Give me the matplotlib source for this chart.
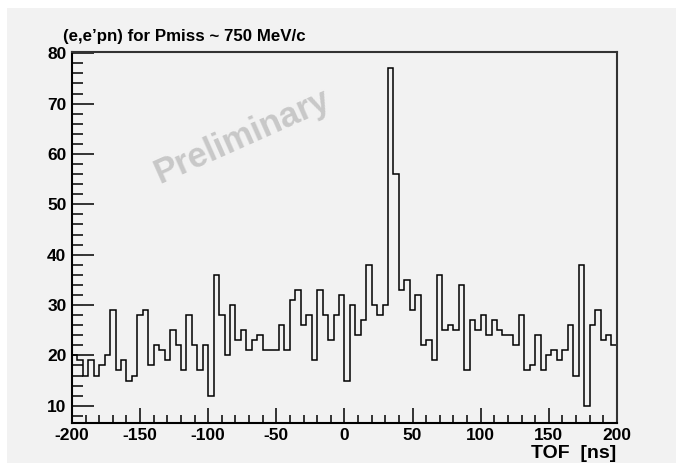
import numpy as np
import matplotlib.pyplot as plt
from matplotlib.patches import Rectangle
from matplotlib.ticker import MultipleLocator

# TOF histogram, 100 bins of 4 ns between -200 and 200 ns
tof_min = -200
tof_max = 200
n_bins = 100
counts = [20, 19, 16, 19, 16, 18, 20, 29, 17, 19,
          15, 16, 28, 29, 18, 22, 21, 19, 25, 22,
          17, 28, 22, 17, 22, 12, 36, 28, 20, 30,
          23, 25, 21, 23, 24, 21, 21, 21, 26, 21,
          31, 33, 26, 28, 19, 33, 28, 23, 28, 32,
          15, 30, 24, 27, 38, 30, 28, 30, 77, 56,
          33, 35, 29, 32, 22, 23, 19, 36, 25, 26,
          25, 34, 17, 27, 25, 28, 24, 27, 25, 24,
          24, 22, 28, 17, 18, 24, 17, 20, 21, 19,
          21, 26, 16, 38, 10, 26, 29, 23, 24, 22]

title = "(e,e\u2019pn) for Pmiss ~ 750 MeV/c"
xlabel = "TOF  [ns]"
watermark = "Preliminary"

plt.rcParams['font.family'] = ['Liberation Sans', 'DejaVu Sans']
plt.rcParams['font.weight'] = 'bold'
plt.rcParams['axes.unicode_minus'] = False

grey = '#f2f2f2'
fig = plt.figure(figsize=(6.76, 4.65), dpi=100, facecolor='white')
fig.patches.append(Rectangle((7 / 676, 2 / 465), 1 - 7 / 676, 455 / 465,
                             transform=fig.transFigure, facecolor=grey,
                             edgecolor='none', zorder=-10))

ax = fig.add_axes([0.1065, 0.0912, 0.806, 0.798])
ax.set_facecolor(grey)

edges = np.linspace(tof_min, tof_max, n_bins + 1)
ax.stairs(counts, edges, color='black', linewidth=1.1, baseline=None)

ax.set_xlim(tof_min, tof_max)
ax.set_ylim(6.65, 80.35)

ax.xaxis.set_major_locator(MultipleLocator(50))
ax.xaxis.set_minor_locator(MultipleLocator(10))
ax.yaxis.set_major_locator(MultipleLocator(10))
ax.yaxis.set_minor_locator(MultipleLocator(2))
ax.set_yticks(np.arange(10, 81, 10))

ax.tick_params(axis='both', which='both', direction='in', labelsize=12.5,
               color='black', width=1.1)
ax.tick_params(axis='y', which='major', length=16, pad=4)
ax.tick_params(axis='y', which='minor', length=8)
ax.tick_params(axis='x', which='major', length=11, pad=4)
ax.tick_params(axis='x', which='minor', length=6)
for lab in ax.get_xticklabels() + ax.get_yticklabels():
    lab.set_fontweight('bold')

for side in ['left', 'bottom']:
    ax.spines[side].set_linewidth(1.5)
    ax.spines[side].set_color('black')
for side in ['top', 'right']:
    ax.spines[side].set_linewidth(1.5)
    ax.spines[side].set_color('#333333')

fig.text(63 / 676, 1 - 36 / 465, title, fontsize=12.2, fontweight='bold',
         ha='left', va='center')
fig.text(616 / 676, 1 - 453 / 465, xlabel, fontsize=14, fontweight='bold',
         ha='right', va='center')

ax.text(0.313, 0.772, watermark, transform=ax.transAxes, fontsize=25,
        fontweight='bold', color='#c8c8c8', rotation=24,
        ha='center', va='center', rotation_mode='anchor', zorder=0)

fig.savefig('out.png', dpi=100, facecolor='white')
